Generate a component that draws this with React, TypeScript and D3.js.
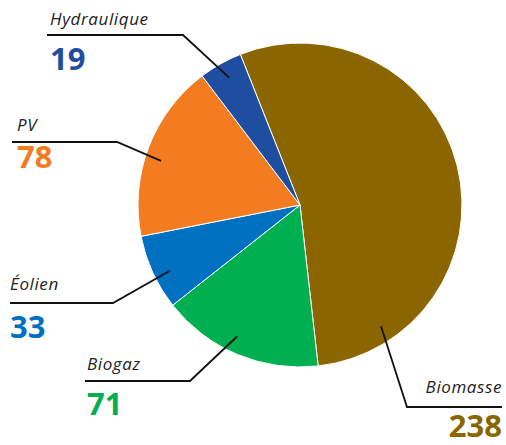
import React from "react";
import * as d3 from "d3";

// data, clockwise from the top (Biomasse first)
const categories = ["Biomasse", "Biogaz", "Éolien", "PV", "Hydraulique"];
const values = [238, 71, 33, 78, 19];
const colors = ["#8b6500", "#00b050", "#0070c0", "#f47c20", "#1f4ea0"];

// where along each slice the leader line touches it (0..1 of its span)
const anchorFrac = [0.86, 0.55, 0.42, 0.45, 0.52];

// label layout: text x / baselines, underline ends, anchor side
const labelLayout = [
  {x: 502, nameY: 393, valueY: 437, lineY: 407, x0: 407, x1: 502, elbowX: 407, anchor: "end"},
  {x: 87, nameY: 370, valueY: 415, lineY: 381, x0: 85, x1: 190, elbowX: 190, anchor: "start"},
  {x: 10, nameY: 290, valueY: 338, lineY: 303, x0: 10, x1: 113, elbowX: 113, anchor: "start"},
  {x: 17, nameY: 131, valueY: 168, lineY: 142, x0: 12, x1: 117, elbowX: 117, anchor: "start"},
  {x: 50, nameY: 25, valueY: 70, lineY: 35, x0: 47, x1: 183, elbowX: 183, anchor: "start"},
];

const W = 506, H = 445;
const cx = 300, cy = 205, R = 162;

export default function App() {
  const data = categories.map((c, i) => ({name: c, value: values[i], i}));
  const pie = d3.pie<any>()
    .value((d) => d.value)
    .sort(null)
    .startAngle(-0.377)
    .endAngle(-0.377 + 2 * Math.PI);
  const arcs = pie(data);
  const arc = d3.arc<any>().innerRadius(0).outerRadius(R);

  return (
    <svg width={W} height={H} style={{position: "absolute", left: 0, top: 0, background: "#fff"}}>
      <g transform={`translate(${cx},${cy})`}>
        {arcs.map((a, i) => (
          <path key={i} d={arc(a) as string} fill={colors[i]} stroke="#fff" strokeWidth={1} />
        ))}
      </g>
      {arcs.map((a, i) => {
        const L = labelLayout[i];
        const ang = a.startAngle + (a.endAngle - a.startAngle) * anchorFrac[i];
        const r = R * 0.9;
        const ax = cx + r * Math.sin(ang);
        const ay = cy - r * Math.cos(ang);
        return (
          <g key={"l" + i}>
            <polyline
              points={`${ax},${ay} ${L.elbowX},${L.lineY} ${L.elbowX === L.x0 ? L.x1 : L.x0},${L.lineY}`}
              fill="none" stroke="#111" strokeWidth={1.8} />
            <text x={L.x} y={L.nameY} textAnchor={L.anchor as any}
              fontFamily="'Open Sans', sans-serif" fontStyle="italic" fontSize={17}
              letterSpacing={0.6} fill="#222">{categories[i]}</text>
            <text x={L.x} y={L.valueY} textAnchor={L.anchor as any}
              fontFamily="'Open Sans', sans-serif" fontWeight={700} fontSize={31}
              fill={colors[i]}>{values[i]}</text>
          </g>
        );
      })}
    </svg>
  );
}
